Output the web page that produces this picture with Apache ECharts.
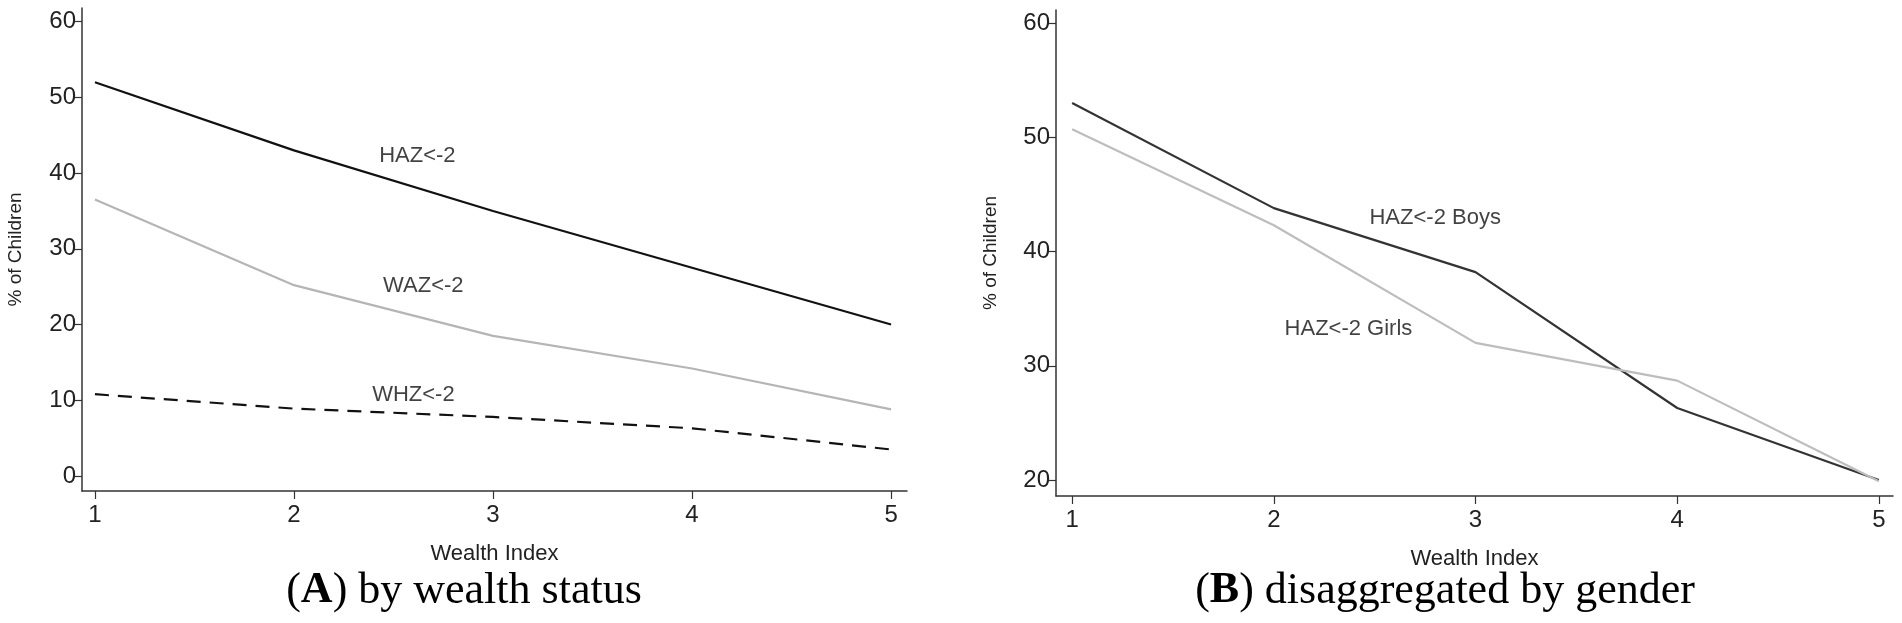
<!DOCTYPE html>
<html><head><meta charset="utf-8">
<script src="https://cdn.jsdelivr.net/npm/echarts@6/dist/echarts.min.js"></script>
<style>html,body{margin:0;padding:0;background:#fff}#c{width:1902px;height:623px}</style>
</head><body><div id="c"></div>
<script>
const wealth = [1, 2, 3, 4, 5];
const haz = [52, 43, 35, 27.5, 20];
const waz = [36.5, 25.2, 18.5, 14.2, 8.8];
const whz = [10.8, 8.9, 7.8, 6.3, 3.5];
const boys = [53, 43.8, 38.2, 26.3, 20];
const girls = [50.7, 42.3, 32, 28.7, 19.9];
const yTicksA = [0, 10, 20, 30, 40, 50, 60];
const yTicksB = [20, 30, 40, 50, 60];
const labelsA = [["HAZ<-2", 2.62, 42.2], ["WAZ<-2", 2.65, 25.1], ["WHZ<-2", 2.6, 10.7]];
const labelsB = [["HAZ<-2 Boys", 2.8, 42.9], ["HAZ<-2 Girls", 2.37, 33.2]];

const font = 'Liberation Sans Narrow, Arial Narrow, Liberation Sans, sans-serif';
const font2 = 'Liberation Sans, Arial, sans-serif';
function pts(v){ return wealth.map((x,i)=>[x,v[i]]); }
function xAxis(idx,min,max){
  return {type:'value', gridIndex:idx, min:min, max:max, name:'Wealth Index', nameLocation:'middle', nameGap:52,
    nameTextStyle:{fontFamily:font,fontSize:22,color:'#222'},
    axisLine:{onZero:false,lineStyle:{color:'#333',width:1.5}}, splitLine:{show:false},
    axisTick:{customValues:wealth,length:8,lineStyle:{color:'#333',width:1.2}},
    axisLabel:{customValues:wealth,fontFamily:font,fontSize:24,color:'#222',margin:12}};
}
function yAxis(idx,min,max,ticks,gap){
  return {type:'value', gridIndex:idx, min:min, max:max, name:'% of Children', nameLocation:'middle', nameGap:gap,
    nameTextStyle:{fontFamily:font2,fontSize:19,color:'#222'},
    axisLine:{show:true,onZero:false,lineStyle:{color:'#333',width:1.5}}, splitLine:{show:false},
    axisTick:{show:true,customValues:ticks,length:8,lineStyle:{color:'#333',width:1.2}},
    axisLabel:{customValues:ticks,fontFamily:font,fontSize:24,color:'#222',margin:6}};
}
function labelSeries(idx,labels){
  return {type:'scatter', xAxisIndex:idx, yAxisIndex:idx, symbolSize:0, silent:true,
    data:labels.map(l=>({value:[l[1],l[2]],name:l[0]})),
    label:{show:true,position:'inside',formatter:p=>p.name,fontFamily:font,fontSize:22,color:'#111'}};
}
const line = (idx,data,color,type,w)=>({type:'line',xAxisIndex:idx,yAxisIndex:idx,data:pts(data),symbol:'none',
  lineStyle:{color:color,width:w||2.2,type:type||'solid'},silent:true});
const cap = {fontFamily:'Liberation Serif, Times New Roman, serif',fontSize:44,fontWeight:'normal',color:'#000',
  rich:{b:{fontFamily:'Liberation Serif, serif',fontSize:44,fontWeight:'bold',color:'#000'}}};

const chart = echarts.init(document.getElementById('c'));
chart.setOption({
  animation:false,
  title:[
    {text:'({b|A}) by wealth status',left:459,textAlign:'center',top:564,textStyle:cap},
    {text:'({b|B}) disaggregated by gender',left:1440,textAlign:'center',top:564,textStyle:cap}
  ],
  grid:[{left:82,width:825,top:8,height:483},{left:1056,width:837,top:10,height:486}],
  xAxis:[xAxis(0,0.935,5.08),xAxis(1,0.92,5.07)],
  yAxis:[yAxis(0,-1.98,61.8,yTicksA,57),yAxis(1,18.6,61.14,yTicksB,56)],
  series:[
    line(0,haz,'#111'),
    line(0,waz,'#b5b5b5'),
    {...line(0,whz,'#111'),lineStyle:{color:'#111',width:2.2,type:[14,9]}},
    labelSeries(0,labelsA),
    line(1,boys,'#333'),
    line(1,girls,'#bdbdbd'),
    labelSeries(1,labelsB)
  ]
});
</script></body></html>
